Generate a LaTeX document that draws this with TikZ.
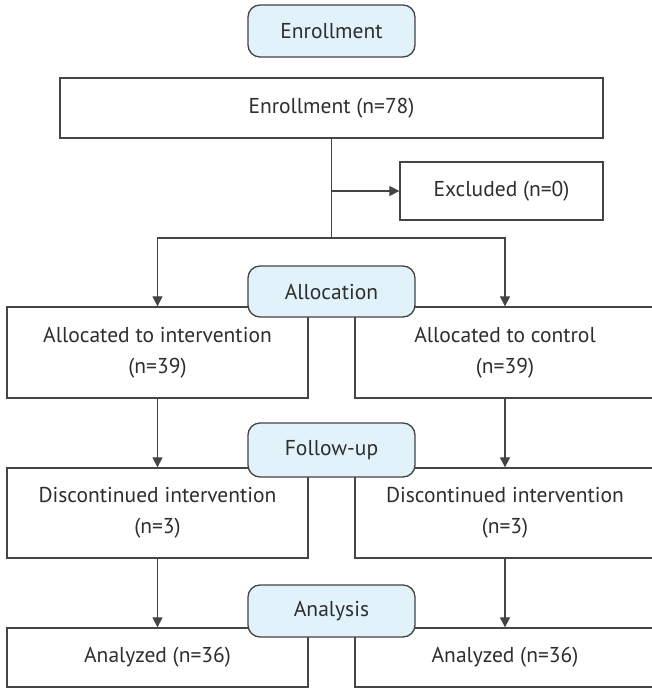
\documentclass[tikz,border=0pt]{standalone}
\usepackage{fontspec}
\setmainfont{PT Sans}
\usetikzlibrary{arrows.meta}
\definecolor{phase}{HTML}{E1F2FA}
\definecolor{edge}{HTML}{444444}
\definecolor{txt}{HTML}{2E2E2E}
\tikzset{
  every node/.style={font=\fontsize{21.5}{31}\selectfont, text=txt},
  stepbox/.style={draw=edge, line width=1.3pt, fill=white, inner sep=0pt, align=center},
  phasebox/.style={draw=edge, line width=1.3pt, fill=phase, rounded corners=12pt, inner sep=0pt,
    minimum width=167pt, align=center},
  link/.style={draw=edge, line width=1.2pt},
  arr/.style={link, -{Triangle[length=10pt,width=10pt]}},
}
\begin{document}
\begin{tikzpicture}[x=1pt,y=-1pt]
\useasboundingbox (0,0) rectangle (652,688);
\clip (0,0) rectangle (652,688);
% boxes
\node[stepbox, minimum width=543pt, minimum height=60pt] (enrbox) at (331.5,108) {Enrollment (n=78)};
\node[stepbox, minimum width=203pt, minimum height=58pt] (excl) at (501.5,191) {Excluded (n=0)};
\node[stepbox, minimum width=301pt, minimum height=91pt] (li) at (157.5,352.5) {Allocated to intervention\\(n=39)};
\node[stepbox, minimum width=300pt, minimum height=91pt] (ri) at (505,352.5) {Allocated to control\\(n=39)};
\node[stepbox, minimum width=301pt, minimum height=90pt] (ld) at (157.5,513) {Discontinued intervention\\(n=3)};
\node[stepbox, minimum width=300pt, minimum height=90pt] (rd) at (505,513) {Discontinued intervention\\(n=3)};
\node[stepbox, minimum width=301pt, minimum height=59pt] (la) at (157.5,657.5) {Analyzed (n=36)};
\node[stepbox, minimum width=300pt, minimum height=59pt] (ra) at (505,657.5) {Analyzed (n=36)};
% connectors
\coordinate (split) at (331.5,238);
\draw[link] (enrbox.south) -- (split);
\draw[arr] (enrbox.south |- excl.west) -- (excl.west);
\draw[arr] (split) -| (li.north);
\draw[arr] (split) -| (ri.north);
\draw[arr] (li.south) -- (ld.north);
\draw[arr] (ri.south) -- (rd.north);
\draw[arr] (ld.south) -- (la.north);
\draw[arr] (rd.south) -- (ra.north);
% phase labels
\node[phasebox, minimum height=52pt] (enr) at (331.5,31) {Enrollment};
\node[phasebox, minimum height=51pt] (alloc) at (331.5,291.5) {Allocation};
\node[phasebox, minimum height=54pt] (fu) at (331.5,450) {Follow-up};
\node[phasebox, minimum height=52pt] (an) at (331.5,611) {Analysis};
\end{tikzpicture}
\end{document}
